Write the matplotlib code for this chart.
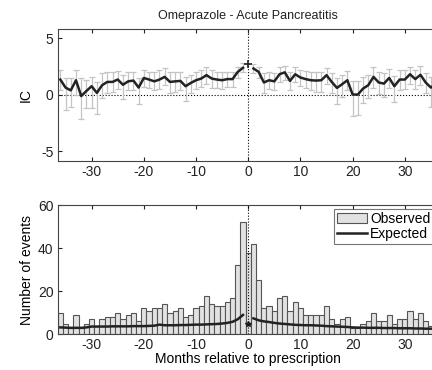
import numpy as np
import matplotlib
matplotlib.use("Agg")
import matplotlib.pyplot as plt

plt.rcParams["font.family"] = ["Liberation Sans", "DejaVu Sans"]
plt.rcParams["axes.unicode_minus"] = False

# months -36..-1 and 1..36 (month 0 is drawn with its own marker)
months_pre = list(range(-36, 0))
months_post = list(range(1, 37))

ic_pre = [1.36, 0.65, 0.40, 1.30, -0.10, 0.35, 0.77, 0.18, 0.86, 1.15, 1.15, 1.36,
          0.90, 1.20, 1.27, 0.65, 1.50, 1.36, 1.20, 1.36, 1.60, 1.15, 1.20, 1.24,
          0.77, 1.06, 1.30, 1.45, 1.75, 1.45, 1.36, 1.30, 1.40, 1.40, 2.04, 2.40]
ic_pre_lo = [0.40, -1.37, -1.07, 0.00, -2.14, -1.20, -1.20, -1.67, -0.30, 0.20, 0.25, 0.50,
             -0.40, 0.40, 0.40, -0.77, 0.70, 0.60, 0.40, 0.50, 0.85, 0.20, 0.30, 0.40,
             -0.50, 0.20, 0.50, 0.70, 1.00, 0.65, 0.60, 0.50, 0.70, 0.70, 1.50, 2.00]
ic_pre_hi = [2.20, 1.46, 1.46, 2.20, 1.46, 1.30, 1.60, 1.16, 1.90, 2.00, 2.00, 2.10,
             1.75, 2.00, 2.05, 1.50, 2.25, 2.05, 2.00, 2.20, 2.35, 2.00, 2.00, 2.00,
             1.55, 1.80, 2.00, 2.20, 2.50, 2.20, 2.05, 2.00, 2.05, 2.05, 2.50, 2.80]

ic_post = [2.34, 2.04, 1.10, 1.30, 1.20, 1.83, 2.00, 1.24, 1.83, 1.54, 1.40, 1.30,
           1.27, 1.30, 1.75, 1.15, 0.62, 0.95, 1.30, 0.03, 0.03, 0.56, 0.86, 1.60,
           1.10, 1.00, 1.50, 0.77, 1.36, 1.36, 1.83, 1.40, 1.78, 1.10, 0.65, 1.00]
ic_post_lo = [1.90, 1.50, 0.20, 0.50, 0.40, 1.10, 1.30, 0.40, 1.10, 0.80, 0.60, 0.40,
              0.30, 0.30, 1.00, 0.20, -0.80, -0.20, 0.40, -1.90, -1.80, -0.70, -0.30, 0.60,
              0.10, -0.20, 0.60, -0.60, 0.40, 0.50, 1.00, 0.50, 0.90, 0.20, -1.10, 0.00]
ic_post_hi = [2.75, 2.50, 1.90, 2.00, 1.90, 2.45, 2.60, 2.00, 2.45, 2.20, 2.10, 2.00,
              2.00, 2.00, 2.40, 1.90, 1.50, 1.80, 2.10, 1.20, 1.20, 1.60, 1.80, 2.50,
              2.00, 1.90, 2.30, 1.70, 2.20, 2.20, 2.50, 2.20, 2.60, 1.90, 1.60, 1.90]

ic_month0 = 2.78

months_all = list(range(-36, 37))
observed = [10, 5, 3, 9, 3, 5, 7, 4, 7, 8, 8, 10,
            7, 9, 10, 6, 12, 11, 12, 12, 14, 10, 11, 12,
            8, 9, 12, 13, 18, 14, 13, 13, 15, 17, 32, 52,
            38,
            42, 25, 12, 13, 11, 17, 18, 11, 15, 12, 9, 9,
            9, 9, 13, 7, 5, 7, 8, 3, 3, 5, 6, 10,
            6, 6, 9, 5, 7, 7, 11, 7, 10, 6, 4, 6]

expected_pre = [3.2, 3.1, 3.0, 3.0, 3.0, 3.2, 3.6, 3.6, 3.6, 3.6, 3.7, 3.7,
                3.7, 3.7, 3.8, 3.8, 3.8, 3.9, 4.0, 4.5, 4.2, 4.2, 4.2, 4.3,
                4.3, 4.4, 4.5, 4.5, 4.6, 4.7, 4.8, 5.0, 5.3, 5.8, 7.0, 9.0]
expected_post = [7.4, 6.5, 6.0, 5.7, 5.3, 5.0, 4.8, 4.6, 4.4, 4.3, 4.2, 4.2,
                 4.1, 4.0, 3.8, 3.7, 3.6, 3.5, 3.4, 3.2, 3.1, 3.1, 3.0, 3.0,
                 3.0, 2.9, 2.9, 2.9, 2.8, 2.8, 2.8, 2.7, 2.7, 2.6, 2.6, 2.6]
expected_month0 = 5.0

fig = plt.figure(figsize=(4.32, 3.70), dpi=100)
ax1 = fig.add_axes([0.1336, 0.565, 0.882, 0.357])
ax2 = fig.add_axes([0.1336, 0.0965, 0.882, 0.349])

# --- IC panel ---
for m, v, lo, hi in [(months_pre, ic_pre, ic_pre_lo, ic_pre_hi),
                     (months_post, ic_post, ic_post_lo, ic_post_hi)]:
    v = np.array(v)
    err = [v - np.array(lo), np.array(hi) - v]
    ax1.errorbar(m, v, yerr=err, fmt="none", ecolor="#c4c4c4",
                 elinewidth=0.9, capsize=2, capthick=0.9, zorder=2)
    ax1.plot(m, v, color="#222222", linewidth=1.8, zorder=3)
ax1.plot([0], [ic_month0], "+", color="#222222", markersize=6, mew=1.2, zorder=4)
ax1.axhline(0, color="black", linestyle=":", linewidth=0.8, zorder=1)
ax1.axvline(0, color="black", linestyle=":", linewidth=0.8, zorder=1)
ax1.set_xlim(-36.5, 36.5)
ax1.set_ylim(-5.85, 5.85)
ax1.set_yticks([-5, 0, 5])
ax1.set_xticks([-30, -20, -10, 0, 10, 20, 30])
ax1.set_ylabel("IC", fontsize=10, labelpad=6)
ax1.set_title("Omeprazole - Acute Pancreatitis", fontsize=9, pad=7, color="#222222")

# --- counts panel ---
bars = ax2.bar(months_all, observed, width=1.0, color="#e2e2e2", edgecolor="#555555",
               linewidth=0.8, zorder=2)
line, = ax2.plot(months_pre, expected_pre, color="#222222", linewidth=1.8, zorder=3)
ax2.plot(months_post, expected_post, color="#222222", linewidth=1.8, zorder=3)
ax2.plot([0], [expected_month0], "*", color="#222222", markersize=4, zorder=4)
ax2.axvline(0, color="black", linestyle=":", linewidth=0.8, zorder=4)
ax2.set_xlim(-36.5, 36.5)
ax2.set_ylim(0, 60)
ax2.set_yticks([0, 20, 40, 60])
ax2.set_xticks([-30, -20, -10, 0, 10, 20, 30])
ax2.set_ylabel("Number of events", fontsize=10, labelpad=3)
ax2.set_xlabel("Months relative to prescription", fontsize=10, labelpad=0)
leg = ax2.legend([bars, line], ["Observed", "Expected"], loc="upper left",
                 bbox_to_anchor=(0.725, 0.97), fontsize=10,
                 frameon=True, fancybox=False, edgecolor="#555555",
                 handlelength=2.2, handletextpad=0.2, borderpad=0.2,
                 labelspacing=0.1, borderaxespad=0)
leg.get_frame().set_linewidth(0.8)

for ax in (ax1, ax2):
    ax.tick_params(direction="in", top=True, right=True, labelsize=10,
                   length=3, width=0.8, colors="#222222", pad=3)
    for sp in ax.spines.values():
        sp.set_linewidth(0.8)
        sp.set_color("#444444")

fig.savefig("out.png", dpi=100)
